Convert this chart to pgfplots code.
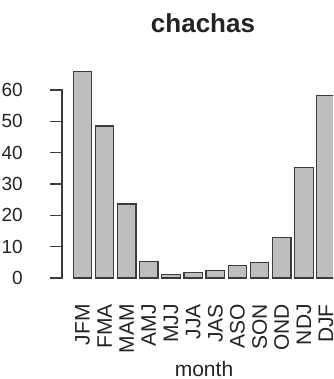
\documentclass[border=0pt]{standalone}
\usepackage{fontspec}
\setmainfont{Liberation Sans}
\usepackage{pgfplots}
\pgfplotsset{compat=1.18}
\definecolor{barfill}{RGB}{190,190,190}
\definecolor{bardraw}{RGB}{60,60,60}
\definecolor{txt}{RGB}{35,35,35}
\begin{document}
\begin{tikzpicture}
\begin{axis}[
  at={(0,0)}, anchor=south west,
  scale only axis, width=271pt, height=210pt,
  xmin=-0.921, xmax=11.314, ymin=0, ymax=67,
  clip mode=individual,
  axis line style={draw=none},
  ytick={0,10,20,30,40,50,60},
  major tick length=12pt, tick align=outside,
  ytick pos=left,
  ytick style={line width=1.3pt, draw=bardraw},
  xtick style={draw=none},
  xtick={0,1,2,3,4,5,6,7,8,9,10,11},
  xticklabels={JFM,FMA,MAM,AMJ,MJJ,JJA,JAS,ASO,SON,OND,NDJ,DJF},
  xtick pos=bottom,
  /pgf/number format/assume math mode=true,
  tick label style={font=\fontsize{19}{19}\selectfont, text=txt},
  yticklabel style={anchor=east, inner sep=0pt, xshift=-27pt},
  xticklabel style={rotate=90, anchor=east, inner sep=0pt, font=\fontsize{21}{21}\selectfont},
  xticklabel shift=14pt,
  title={chachas},
  title style={font=\fontsize{26}{26}\selectfont\bfseries, text=txt, at={(axis description cs:0.5,1)}, anchor=base, yshift=29pt, xshift=5.5pt},
  xlabel={month},
  xlabel style={font=\fontsize{21}{21}\selectfont, text=txt, at={(axis description cs:0.5,0)}, anchor=base, yshift=-98pt, xshift=6.5pt},
]
\addplot[ybar, bar width=0.835, fill=barfill, draw=bardraw, line width=1.2pt] coordinates {
(0,65.9) (1,48.5) (2,23.6) (3,5.3) (4,1.2) (5,1.8) (6,2.5) (7,3.9) (8,5.0) (9,12.8) (10,35.3) (11,58.3)
};
\coordinate (yb) at (axis cs:-0.921,0);
\coordinate (yt) at (axis cs:-0.921,60);
\end{axis}
\draw[draw=bardraw, line width=1.4pt, line cap=rect] (yb) -- (yt);
\pgfresetboundingbox
\path (-62pt,-101pt) rectangle (271pt,278pt);
\end{tikzpicture}
\end{document}
